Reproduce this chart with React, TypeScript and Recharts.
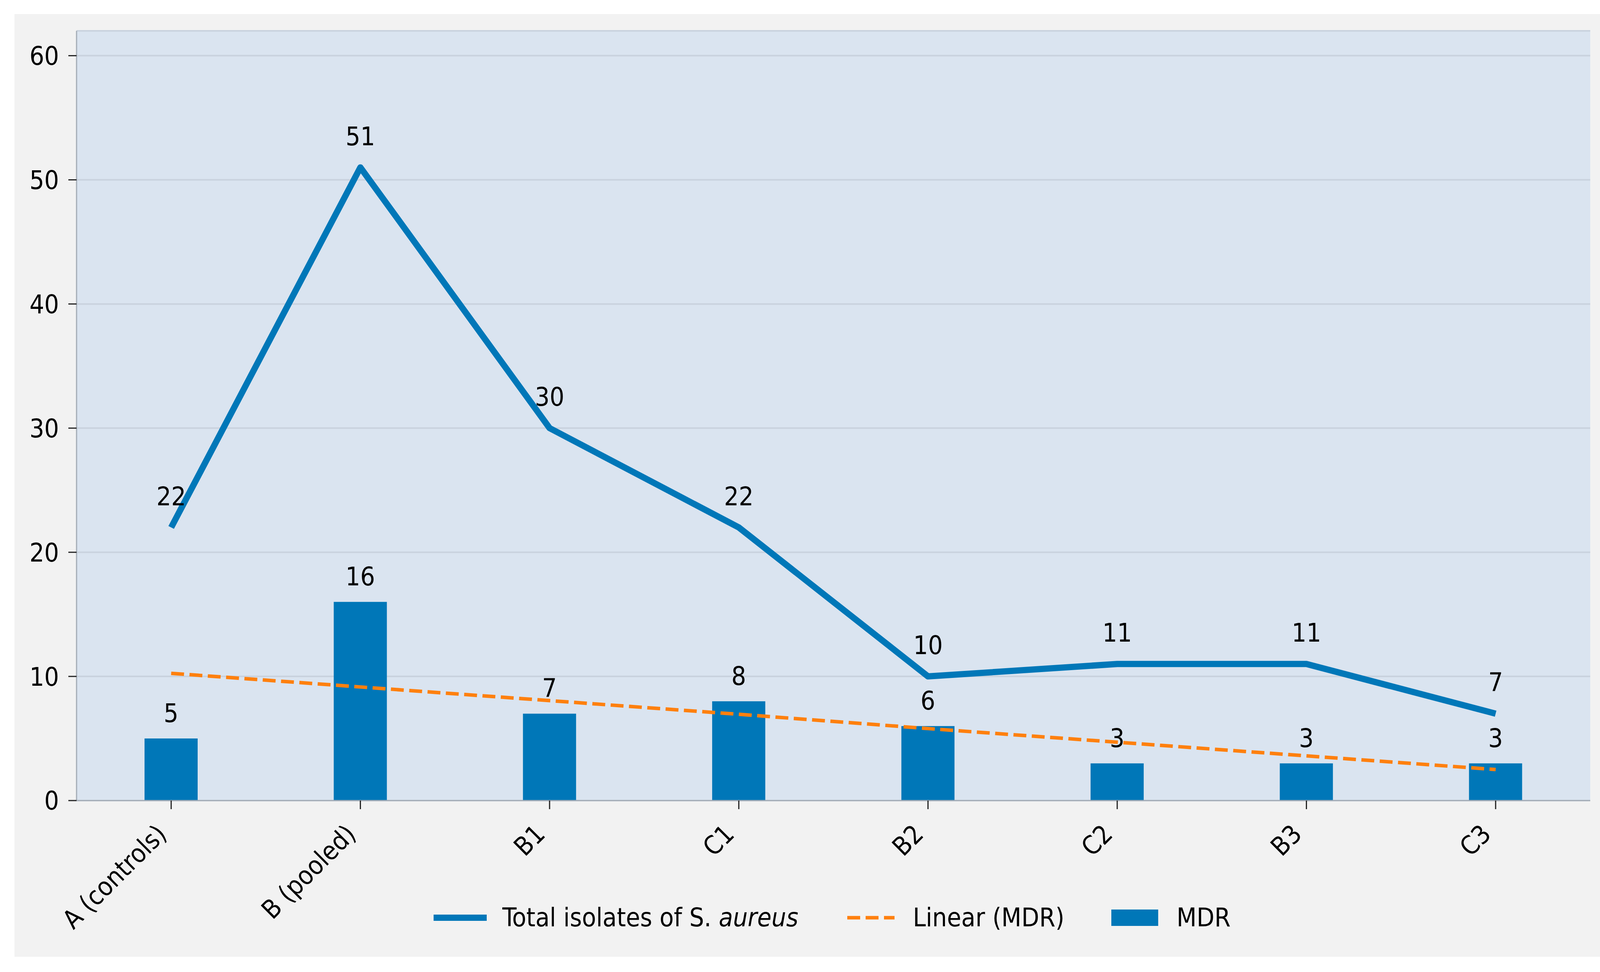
import React from 'react';
import {
  ComposedChart,
  Bar,
  Line,
  XAxis,
  YAxis,
  CartesianGrid,
  Legend,
  LabelList,
} from 'recharts';

const categories = ['A (controls)', 'B (pooled)', 'B1', 'C1', 'B2', 'C2', 'B3', 'C3'];
const totalIsolates = [22, 51, 30, 22, 10, 11, 11, 7];
const mdr = [5, 16, 7, 8, 6, 3, 3, 3];
// trend line
const linearMdr = [10.25, 9.15, 8.05, 6.95, 5.8, 4.7, 3.6, 2.5];
const yTicks = [0, 10, 20, 30, 40, 50, 60];

const data = categories.map((name, i) => ({
  name,
  total: totalIsolates[i],
  mdr: mdr[i],
  linear: linearMdr[i],
}));

const FONT = "'DejaVu Sans Condensed', 'DejaVu Sans', sans-serif";
const FS = 66;
const BLUE = '#0077b8';
const ORANGE = '#ff800e';

const W = 4077;
const H = 2414;
const LEG_H = 200;

const XTick = (props: any) => {
  const { x, y, payload } = props;
  const ax = x - 8;
  const ay = y + 68;
  return (
    <text
      x={ax}
      y={ay}
      transform={`rotate(-45, ${ax}, ${ay})`}
      textAnchor="end"
      fontSize={FS}
      fontFamily={FONT}
      fill="#000"
    >
      {payload.value}
    </text>
  );
};

const lineLabel = (props: any) => {
  const { x, y, value } = props;
  return (
    <text x={x} y={y - 57} textAnchor="middle" fontSize={FS} fontFamily={FONT} fill="#000">
      {value}
    </text>
  );
};

const barLabel = (props: any) => {
  const { x, y, width, value } = props;
  return (
    <text x={x + width / 2} y={y - 42} textAnchor="middle" fontSize={FS} fontFamily={FONT} fill="#000">
      {value}
    </text>
  );
};

const textStyle: React.CSSProperties = {
  position: 'absolute',
  top: LEG_H / 2,
  transform: 'translateY(-50%)',
  fontSize: FS,
  fontFamily: FONT,
  color: '#000',
  whiteSpace: 'nowrap',
  lineHeight: 1,
};

const LegendContent = () => (
  <div style={{ position: 'relative', height: LEG_H }}>
    <svg style={{ position: 'absolute', left: 1073, top: LEG_H / 2 - 10 }} width={136} height={20}>
      <line x1={0} y1={10} x2={136} y2={10} stroke={BLUE} strokeWidth={16} />
    </svg>
    <div style={{ ...textStyle, left: 1249 }}>
      Total isolates of S. <i>aureus</i>
    </div>
    <svg style={{ position: 'absolute', left: 2132, top: LEG_H / 2 - 10 }} width={121} height={20}>
      <line x1={0} y1={10} x2={121} y2={10} stroke={ORANGE} strokeWidth={9} strokeDasharray="33 14" />
    </svg>
    <div style={{ ...textStyle, left: 2300 }}>Linear (MDR)</div>
    <div
      style={{
        position: 'absolute',
        left: 2808,
        top: LEG_H / 2 - 21,
        width: 120,
        height: 42,
        background: BLUE,
      }}
    />
    <div style={{ ...textStyle, left: 2975 }}>MDR</div>
  </div>
);

export default function App() {
  return (
    <div style={{ width: 4151, height: 2489, background: '#fff', position: 'relative' }}>
      <style>{'body{margin:0}'}</style>
      <div style={{ position: 'absolute', left: 37, top: 36, width: W, height: H, background: '#f2f2f2' }}>
        <ComposedChart
          width={W}
          height={H}
          data={data}
          margin={{ top: 43, right: 43, left: 0, bottom: 0 }}
        >
          <CartesianGrid vertical={false} stroke="#c9d2de" strokeWidth={4} fill="#dae4f0" />
          <XAxis
            dataKey="name"
            interval={0}
            height={400 - LEG_H}
            tickSize={22}
            tickMargin={0}
            axisLine={{ stroke: '#a4acb6', strokeWidth: 3 }}
            tickLine={{ stroke: '#222', strokeWidth: 3 }}
            tick={<XTick />}
          />
          <YAxis
            domain={[0, 62]}
            ticks={yTicks}
            width={159}
            tickSize={21}
            tickMargin={24}
            axisLine={{ stroke: '#a4acb6', strokeWidth: 3 }}
            tickLine={{ stroke: '#222', strokeWidth: 3 }}
            tick={{ fontSize: FS, fontFamily: FONT, fill: '#000' }}
          />
          <Bar dataKey="mdr" name="MDR" fill={BLUE} barSize={136} isAnimationActive={false}>
            <LabelList dataKey="mdr" content={barLabel} />
          </Bar>
          <Line
            dataKey="linear"
            name="Linear (MDR)"
            stroke={ORANGE}
            strokeWidth={9}
            strokeDasharray="33 14"
            dot={false}
            activeDot={false}
            isAnimationActive={false}
          />
          <Line
            dataKey="total"
            name="Total isolates of S. aureus"
            stroke={BLUE}
            strokeWidth={16}
            strokeLinejoin="round"
            dot={false}
            activeDot={false}
            isAnimationActive={false}
          >
            <LabelList dataKey="total" content={lineLabel} />
          </Line>
          <Legend
            verticalAlign="bottom"
            wrapperStyle={{ height: LEG_H, left: 0, bottom: 0, width: W - 43 }}
            content={<LegendContent />}
          />
        </ComposedChart>
      </div>
    </div>
  );
}
